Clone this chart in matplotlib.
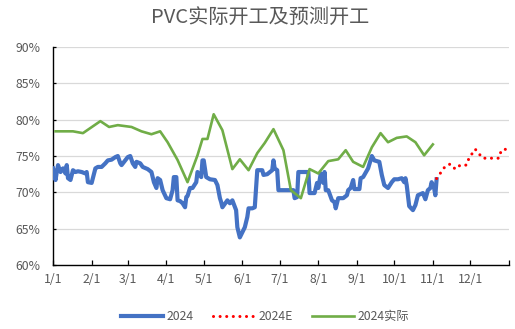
import numpy as np
import matplotlib
matplotlib.use('Agg')
import matplotlib.pyplot as plt

plt.rcParams['font.family'] = ['Noto Sans CJK SC', 'DejaVu Sans']

# Day of year 2024 (0 = Jan 1) and operating rate in %
actual_days = [0, 2, 3, 4, 6, 8, 10, 11, 12, 14, 16, 18, 20, 23, 26, 27, 28, 31, 32, 34,
               36, 39, 42, 44, 47, 50, 52, 54, 55, 58, 60, 62, 64, 66, 67, 70, 72, 76, 79, 81,
               83, 84, 86, 88, 91, 94, 96, 97, 99, 100, 102, 104, 106, 107, 108, 110, 112, 115, 116, 119,
               120, 121, 123, 126, 130, 132, 134, 135, 136, 140, 142, 144, 147, 148, 150, 152, 154, 156, 157, 160,
               162, 164, 168, 169, 172, 176, 177, 178, 180, 181, 188, 193, 194, 196, 197, 205, 206, 210, 212, 213,
               215, 217, 218, 219, 221, 224, 226, 227, 229, 233, 236, 237, 239, 241, 242, 246, 247, 249, 250, 253,
               256, 258, 262, 264, 266, 269, 272, 274, 277, 280, 282, 283, 284, 286, 289, 291, 293, 297, 299, 301,
               303, 304, 306, 307, 308]
actual_vals = [73.3, 71.7, 72.8, 73.75, 72.8, 73.3, 72.6, 73.75, 71.95, 71.7, 73.05, 72.8, 72.9, 72.8, 72.6, 72.8, 71.4, 71.3, 71.95, 73.3,
               73.5, 73.5, 74.0, 74.4, 74.5, 74.85, 75.0, 74.0, 73.75, 74.4, 74.85, 75.0, 74.0, 73.5, 74.2, 74.0, 73.5, 73.2, 72.8, 71.4,
               70.6, 71.95, 71.7, 70.3, 69.2, 69.05, 70.3, 72.1, 72.1, 68.9, 68.8, 68.5, 67.95, 69.35, 69.5, 70.6, 70.6, 71.4, 72.8, 72.1,
               74.4, 74.4, 72.1, 71.8, 71.7, 71.0, 69.2, 68.65, 67.95, 68.9, 68.5, 68.9, 67.55, 65.2, 63.8, 64.5, 65.2, 66.6, 67.8, 67.8,
               67.95, 73.05, 73.05, 72.4, 72.5, 73.05, 74.4, 73.3, 73.05, 70.3, 70.3, 70.3, 69.2, 69.35, 72.8, 72.8, 69.9, 69.9, 71.3, 70.6,
               72.6, 71.3, 72.8, 70.3, 70.3, 68.9, 68.65, 67.8, 69.2, 69.2, 69.6, 70.3, 70.6, 71.7, 70.45, 70.45, 71.95, 72.1, 72.4, 73.3,
               75.0, 74.4, 74.2, 72.4, 71.0, 70.6, 71.4, 71.8, 71.8, 71.95, 71.4, 71.95, 71.0, 68.1, 67.55, 68.25, 69.6, 69.9, 69.05, 70.3,
               70.6, 71.4, 70.6, 69.6, 71.8]

forecast_days = [308, 315, 319, 323, 327, 332, 334, 339, 345, 358, 360, 364]
forecast_vals = [71.9, 73.6, 73.9, 73.2, 73.75, 73.75, 74.7, 75.95, 74.7, 74.7, 75.8, 75.95]

real_days = [2, 16, 24, 38, 45, 52, 63, 71, 79, 86, 92, 100, 108, 116, 120, 124, 129, 136, 144, 150,
             157, 164, 170, 177, 185, 191, 199, 206, 213, 221, 229, 235, 241, 249, 256, 263, 269, 276, 284, 291,
             298, 305]
real_vals = [78.4, 78.4, 78.15, 79.8, 79.0, 79.25, 79.0, 78.4, 78.0, 78.4, 76.9, 74.45, 71.4, 75.1, 77.35, 77.35, 80.75, 78.55, 73.2, 74.55,
             73.05, 75.4, 76.8, 78.7, 75.8, 70.3, 69.2, 73.2, 72.6, 74.3, 74.55, 75.8, 74.2, 73.5, 76.2, 78.15, 76.9, 77.5, 77.7, 76.9,
             75.1, 76.6]

month_starts = [0, 31, 60, 91, 121, 152, 182, 213, 244, 274, 305, 335, 366]
month_labels = ['1/1', '2/1', '3/1', '4/1', '5/1', '6/1', '7/1', '8/1', '9/1', '10/1', '11/1', '12/1', '']

grey = '#595959'

fig = plt.figure(figsize=(5.15, 3.29), dpi=100)
ax = fig.add_axes([0.103, 0.1945, 0.885, 0.6625])

ax.plot(actual_days, actual_vals, color='#4472C4', linewidth=3.0,
        solid_joinstyle='round', label='2024', zorder=3)
ax.plot(forecast_days, forecast_vals, color='#FF0000', linewidth=2.2,
        linestyle=(0, (0.01, 2.15)), dash_capstyle='round', label='2024E', zorder=3)
ax.plot(real_days, real_vals, color='#70AD47', linewidth=1.9,
        solid_joinstyle='round', label='2024实际', zorder=3)

ax.set_xlim(0, 366)
ax.set_ylim(60, 90)
ax.set_xticks(month_starts)
ax.set_xticklabels(month_labels)
ax.set_yticks(np.arange(60, 91, 5))
ax.set_yticklabels([f'{v}%' for v in range(60, 91, 5)])

ax.grid(axis='y', color='#D9D9D9', linewidth=0.9)
ax.set_axisbelow(True)
for side in ['top', 'right']:
    ax.spines[side].set_visible(False)
for side in ['left', 'bottom']:
    ax.spines[side].set_color('black')
    ax.spines[side].set_linewidth(1.0)

ax.tick_params(axis='x', direction='in', length=3.5, width=0.9, color='black',
               labelsize=8.8, labelcolor=grey, pad=6)
ax.tick_params(axis='y', direction='in', length=2.5, width=0.9, color='black',
               labelsize=8.8, labelcolor=grey, pad=9)

fig.suptitle('PVC实际开工及预测开工', x=0.505, y=0.947, va='center',
             fontsize=14.5, color=grey)

fig.legend(loc='center', bbox_to_anchor=(0.515, 0.038), ncol=3, frameon=False,
           fontsize=8.8, labelcolor=grey, handlelength=3.4, handletextpad=0.3,
           columnspacing=1.6)

plt.savefig('out.png', dpi=100)
